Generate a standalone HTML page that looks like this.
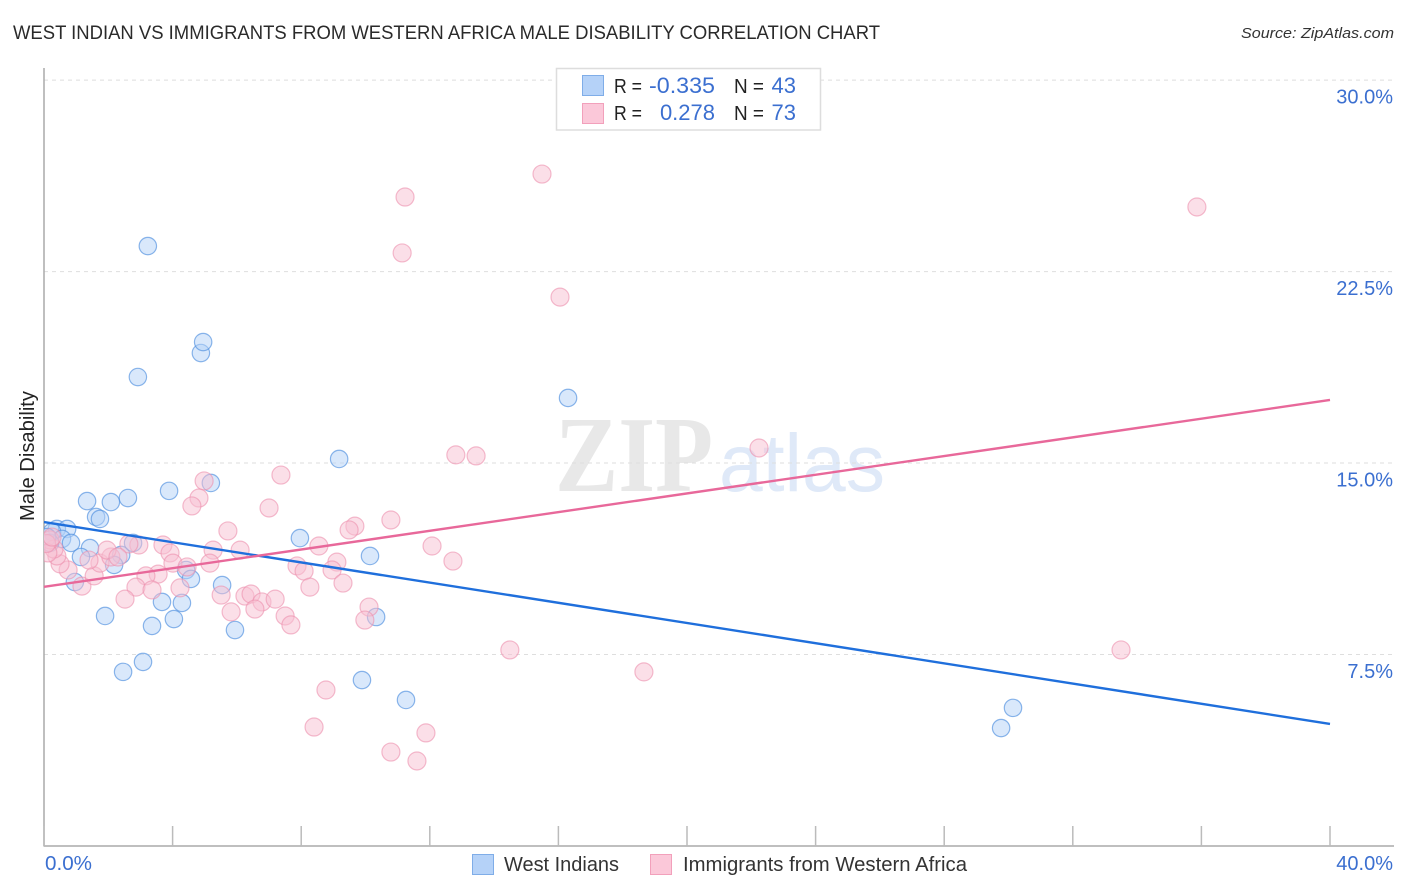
<!DOCTYPE html>
<html>
<head>
<meta charset="utf-8">
<title>West Indian vs Immigrants from Western Africa Male Disability Correlation Chart</title>
<style>
html,body{margin:0;padding:0;background:#fff;width:1406px;height:892px;overflow:hidden}
svg{display:block}
text{font-family:"Liberation Sans",sans-serif}
</style>
</head>
<body>
<svg id="chart" width="1406" height="892" viewBox="0 0 1406 892" xmlns="http://www.w3.org/2000/svg">
  <defs><clipPath id="plot-clip"><rect x="44" y="60" width="1350" height="786"/></clipPath></defs>
  <text x="13" y="39" font-size="19" fill="#2a2a2a" textLength="867" lengthAdjust="spacingAndGlyphs">WEST INDIAN VS IMMIGRANTS FROM WESTERN AFRICA MALE DISABILITY CORRELATION CHART</text>
  <text x="1241" y="38" font-size="15" font-style="italic" fill="#333" textLength="153" lengthAdjust="spacingAndGlyphs">Source: ZipAtlas.com</text>
  <text x="555" y="491" font-size="108" font-weight="bold" fill="#e8e8e8" textLength="158" lengthAdjust="spacingAndGlyphs" style="font-family:'Liberation Serif',serif">ZIP</text>
  <text x="719" y="491" font-size="82" fill="#dfe9f8" textLength="166" lengthAdjust="spacingAndGlyphs">atlas</text>
  <g id="grid"></g>
  <g id="axes"></g>
  <g id="points" clip-path="url(#plot-clip)"></g>
  <g id="trends"></g>
  <text transform="translate(34,456) rotate(-90)" font-size="20" fill="#222" text-anchor="middle" textLength="130" lengthAdjust="spacingAndGlyphs">Male Disability</text>

  <g>
    <rect x="556.5" y="68.5" width="264" height="61.5" fill="#fff" stroke="#ddd" stroke-width="1.5"/>
    <rect x="582.5" y="75.5" width="21" height="20" fill="#b5d2f8" stroke="#7fade8"/>
    <rect x="582.5" y="103.5" width="21" height="20" fill="#fbc8d9" stroke="#f2a0bb"/>
    <text x="614" y="93" font-size="20" fill="#222" textLength="28" lengthAdjust="spacingAndGlyphs">R =</text>
    <text x="649" y="93" font-size="22" fill="#3b6fd0" textLength="66" lengthAdjust="spacingAndGlyphs">-0.335</text>
    <text x="734" y="93" font-size="20" fill="#222" textLength="30" lengthAdjust="spacingAndGlyphs">N =</text>
    <text x="796" y="93" font-size="22" fill="#3b6fd0" text-anchor="end">43</text>
    <text x="614" y="120" font-size="20" fill="#222" textLength="28" lengthAdjust="spacingAndGlyphs">R =</text>
    <text x="715" y="120" font-size="22" fill="#3b6fd0" text-anchor="end">0.278</text>
    <text x="734" y="120" font-size="20" fill="#222" textLength="30" lengthAdjust="spacingAndGlyphs">N =</text>
    <text x="796" y="120" font-size="22" fill="#3b6fd0" text-anchor="end">73</text>
  </g>

  <text x="45" y="870" font-size="20" fill="#3b6fd0" textLength="47" lengthAdjust="spacingAndGlyphs">0.0%</text>
  <text x="1393" y="870" font-size="20" fill="#3b6fd0" text-anchor="end">40.0%</text>

  <g>
    <rect x="472.5" y="854.5" width="21" height="20" fill="#b5d2f8" stroke="#7fade8"/>
    <text x="504" y="871" font-size="20" fill="#333" textLength="115" lengthAdjust="spacingAndGlyphs">West Indians</text>
    <rect x="650.5" y="854.5" width="21" height="20" fill="#fbc8d9" stroke="#f2a0bb"/>
    <text x="683" y="871" font-size="20" fill="#333" textLength="284" lengthAdjust="spacingAndGlyphs">Immigrants from Western Africa</text>
  </g>
</svg>
<script>
const blueX = [3.23,4.88,4.95,2.92,16.30,9.18,5.19,3.89,2.61,1.34,2.08,1.62,1.74,0.40,0.72,0.25,7.96,10.14,0.56,0.84,1.43,0.19,1.15,2.40,2.18,2.77,4.42,4.57,5.54,0.96,3.67,4.29,1.90,3.36,4.04,5.94,10.33,3.08,2.46,9.89,11.26,30.14,29.77,0.10];
const blueY = [23.50,19.31,19.74,18.37,17.55,15.16,14.22,13.91,13.63,13.51,13.47,12.89,12.81,12.42,12.42,12.30,12.06,11.36,12.03,11.87,11.67,11.87,11.32,11.40,11.01,11.87,10.81,10.46,10.22,10.34,9.56,9.52,9.01,8.62,8.89,8.46,8.97,7.21,6.82,6.50,5.72,5.41,4.62,12.10];
const pinkX = [15.49,11.23,35.86,11.14,16.05,22.24,12.81,13.44,7.37,4.98,4.82,4.60,7.00,10.79,9.67,9.49,5.72,12.07,8.55,3.70,2.95,2.64,6.10,5.26,3.92,12.72,9.11,7.87,8.09,8.96,4.01,4.45,5.16,4.23,9.30,8.27,3.55,3.17,2.86,3.36,2.52,5.51,6.25,6.44,6.78,7.19,6.56,5.82,7.50,7.68,10.11,9.98,14.49,33.50,18.66,8.77,8.40,11.88,10.79,11.60,1.18,1.56,0.75,0.50,0.40,0.31,0.19,0.12,1.74,2.08,1.96,1.40,2.30,0.08,0.25];
const pinkY = [26.32,25.42,25.03,23.23,21.50,15.59,15.32,15.28,14.53,14.30,13.63,13.32,13.24,12.77,12.53,12.38,12.34,11.75,11.75,11.79,11.79,11.83,11.59,11.59,11.48,11.16,11.12,10.97,10.77,10.81,11.08,10.93,11.08,10.11,10.30,10.14,10.65,10.58,10.14,10.03,9.67,9.83,9.79,9.87,9.56,9.67,9.28,9.17,9.01,8.66,9.36,8.85,7.68,7.68,6.82,6.11,4.66,4.43,3.68,3.33,10.18,10.58,10.81,11.05,11.36,11.63,11.99,11.48,11.08,11.32,11.59,11.20,11.32,11.85,12.10];
const trendXEnds = [0,40];
const blueTrendY = [12.69,4.78];
const pinkTrendY = [10.15,17.47];
const yTickValues = [7.5,15,22.5,30];
const yTickLabels = ["7.5%","15.0%","22.5%","30.0%"];
const xTickValues = [0,4,8,12,16,20,24,28,32,36,40];

const NS = "http://www.w3.org/2000/svg";
const xScale = v => 44 + v * 32.15;
const yScale = v => 846 - v * 25.53;
function make(tag, attrs, parent) {
  const el = document.createElementNS(NS, tag);
  for (const k in attrs) el.setAttribute(k, attrs[k]);
  parent.appendChild(el);
  return el;
}
const gridG = document.getElementById("grid");
const axesG = document.getElementById("axes");
const pointsG = document.getElementById("points");
const trendsG = document.getElementById("trends");

yTickValues.forEach((v, i) => {
  const line = make("line", {x1:44, x2:1394, y1:yScale(v), y2:yScale(v), stroke:"#dedede", "stroke-width":1, "stroke-dasharray":"4 4"}, gridG);
  
  
  const label = make("text", {x:1393, y:yScale(v)+23.5, "font-size":20, fill:"#3b6fd0", "text-anchor":"end"}, axesG);
  
  
  label.textContent = yTickLabels[i];
});

const yAxis = make("line", {x1:44, x2:44, y1:68, y2:846.5, stroke:"#aaa", "stroke-width":1.5}, axesG);


const xAxis = make("line", {x1:44, x2:1394, y1:846, y2:846, stroke:"#aaa", "stroke-width":1.5}, axesG);


xTickValues.forEach(v => {
  const tick = make("line", {x1:xScale(v), x2:xScale(v), y1:826, y2:846, stroke:"#bbb", "stroke-width":1.5}, axesG);
  
  
});

blueX.forEach((v, i) => {
  const c = make("circle", {cx:xScale(v), cy:yScale(blueY[i]), r:8.7, fill:"#b3d1f8", "fill-opacity":0.5, stroke:"#4f8fdf", "stroke-opacity":0.65, "stroke-width":1.2}, pointsG);
  
  
});
pinkX.forEach((v, i) => {
  const c = make("circle", {cx:xScale(v), cy:yScale(pinkY[i]), r:9, fill:"#f8bfd2", "fill-opacity":0.5, stroke:"#ec8fae", "stroke-opacity":0.6, "stroke-width":1.2}, pointsG);
  
  
});

const blueLine = make("line", {x1:xScale(trendXEnds[0]), x2:xScale(trendXEnds[1]), y1:yScale(blueTrendY[0]), y2:yScale(blueTrendY[1]), stroke:"#1f6fdc", "stroke-width":2.4}, trendsG);


const pinkLine = make("line", {x1:xScale(trendXEnds[0]), x2:xScale(trendXEnds[1]), y1:yScale(pinkTrendY[0]), y2:yScale(pinkTrendY[1]), stroke:"#e8689a", "stroke-width":2.4}, trendsG);


</script>
</body>
</html>
